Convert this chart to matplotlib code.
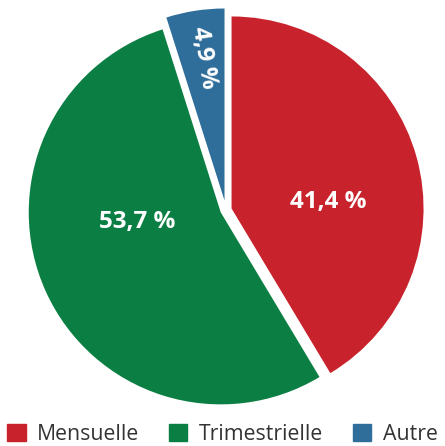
import matplotlib.pyplot as plt
from matplotlib.patches import Rectangle

plt.rcParams['font.family'] = ['Open Sans', 'DejaVu Sans']

categories = ["Mensuelle", "Trimestrielle", "Autre"]
shares = [41.4, 53.7, 4.9]
value_labels = ["41,4 %", "53,7 %", "4,9 %"]
colors = ["#C8232C", "#0B7F43", "#2F6E9A"]

fig = plt.figure(figsize=(4.45, 4.46), dpi=100)
ax = fig.add_axes([0, 0, 1, 1])

cx, cy, r = 226, 210, 192
W, H = 445, 446

wedges, _ = ax.pie(shares, colors=colors, startangle=90, counterclock=False,
                   explode=[0.03, 0.03, 0.05], radius=1.0,
                   wedgeprops=dict(linewidth=0))
ax.set_xlim(-cx / r, (W - cx) / r)
ax.set_ylim(-(H - cy) / r, cy / r)
ax.set_aspect('auto')
ax.axis('off')

# value labels
ax.text((328 - cx) / r, (cy - 202) / r, value_labels[0], color="white",
        fontsize=17.5, fontweight="bold", ha="center", va="center")
ax.text((137 - cx) / r, (cy - 222) / r, value_labels[1], color="white",
        fontsize=17.5, fontweight="bold", ha="center", va="center")
ax.text((204 - cx) / r, (cy - 58) / r, value_labels[2], color="white",
        fontsize=17.5, fontweight="bold", ha="center", va="center", rotation=-81)

# legend row
handles = [Rectangle((0, 0), 1, 1, color=c) for c in colors]
fig.legend(handles, categories, loc="lower center", ncol=3, frameon=False,
           bbox_to_anchor=(0.5, -0.04), fontsize=15.3, handlelength=0.85,
           handleheight=0.85, handletextpad=0.55, columnspacing=1.4,
           labelcolor="#333333")

fig.savefig("out.png", dpi=100)
